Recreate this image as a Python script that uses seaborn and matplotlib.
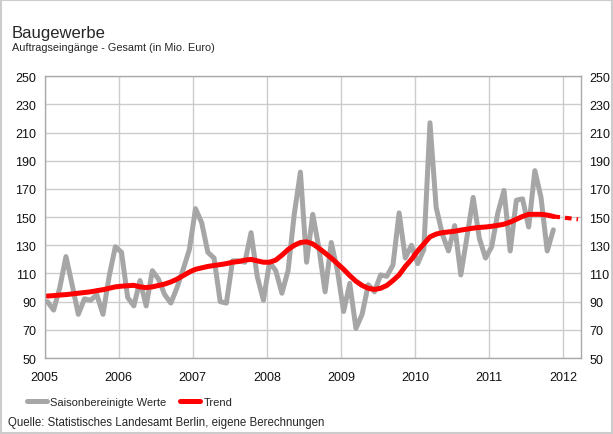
import numpy as np
import pandas as pd
import matplotlib
matplotlib.use('Agg')
import matplotlib.pyplot as plt
import seaborn as sns

# monthly values Jan 2005 - Nov 2011
saison = [90, 84, 100, 122, 102, 81, 92, 91, 95, 81, 108, 129,
          125, 93, 87, 105, 87, 112, 106, 95, 89, 100, 113, 127,
          156, 146, 125, 121, 90, 89, 119, 119, 118, 139, 108, 91,
          118, 112, 96, 112, 152, 182, 118, 152, 128, 97, 132, 112,
          83, 103, 71, 81, 102, 97, 109, 108, 116, 153, 121, 130,
          117, 127, 217, 157, 138, 126, 144, 109, 136, 164, 135, 121,
          129, 153, 169, 126, 162, 163, 143, 183, 164, 126, 141]
trend = [94, 94.3, 94.7, 95, 95.5, 96, 96.5, 97, 97.8, 98.5, 99.5, 100.5,
         101, 101.3, 101.6, 100.5, 100, 100.5, 101.5, 102.5, 104, 106, 108.5, 111,
         113, 114, 115, 115.7, 116.3, 117, 118, 118.5, 119.5, 120, 119, 118,
         118, 119.5, 123, 127, 130, 132, 132.5, 131, 128, 124.5, 121, 117,
         113, 108.5, 104.5, 101.5, 99.5, 98.7, 99.5, 101.5, 105, 109, 115, 120,
         126, 131, 136, 138, 139, 139.5, 140, 140.8, 141.5, 142.2, 142.7, 143,
         143.5, 144.2, 145, 146.5, 148.5, 150.5, 152, 152, 152, 151.5, 150.5]
# dashed continuation of the trend (Nov 2011 - Mar 2012)
forecast = [150.5, 150, 149.5, 149, 148.5]
years = [2005, 2006, 2007, 2008, 2009, 2010, 2011, 2012]
yticks = list(range(50, 251, 20))

x_months = 2005 + (np.arange(len(saison)) + 0.45) / 12
x_fc = 2005 + (np.arange(len(saison) - 1, len(saison) - 1 + len(forecast)) + 0.45) / 12

df = pd.DataFrame({'x': x_months, 'saison': saison, 'trend': trend})
df_fc = pd.DataFrame({'x': x_fc, 'trend': forecast})

sns.set_style('white')
plt.rcParams['font.family'] = ['Liberation Sans', 'DejaVu Sans']

fig = plt.figure(figsize=(6.13, 4.35), dpi=100)
ax = fig.add_axes([0.0729, 0.1747, 0.8744, 0.6476])

sns.lineplot(data=df, x='x', y='saison', color='#a6a6a6', lw=3.6, ax=ax,
             label='Saisonbereinigte Werte')
sns.lineplot(data=df, x='x', y='trend', color='#ff0000', lw=3.6, ax=ax, label='Trend')
sns.lineplot(data=df_fc, x='x', y='trend', color='#ff0000', lw=3.0, ax=ax,
             linestyle=(0, (1.6, 1.2)))

ax.set_xlim(2005, 2012.24)
ax.set_ylim(50, 250)
ax.set_xticks(years)
ax.set_xticklabels([str(y) for y in years])
ax.set_yticks(yticks)
ax.set_xlabel('')
ax.set_ylabel('')
ax.grid(True, color='#cccccc', lw=1)
for s in ax.spines.values():
    s.set_color('#aaaaaa')
    s.set_linewidth(1)
ax.tick_params(axis='both', length=0, labelsize=9, colors='#111111')
ax.tick_params(axis='x', pad=9)
ax.tick_params(axis='y', pad=6, labelright=True)

handles, labels = ax.get_legend_handles_labels()
ax.get_legend().remove()
fig.legend(handles[:2], labels[:2], loc='center left', bbox_to_anchor=(27 / 613, 1 - 403 / 435),
           ncol=2, frameon=False, fontsize=8, handlelength=1.8, handletextpad=0.3,
           columnspacing=1.2, borderpad=0, borderaxespad=0)

fig.text(12 / 613, 1 - 38 / 435, 'Baugewerbe', fontsize=12, va='baseline', ha='left')
fig.text(12 / 613, 1 - 51 / 435, 'Auftragseingänge - Gesamt (in Mio. Euro)', fontsize=7.8,
         va='baseline', ha='left')
fig.text(8 / 613, 1 - 423 / 435, 'Quelle: Statistisches Landesamt Berlin, eigene Berechnungen',
         fontsize=8.3, va='center', ha='left')

# light frame around the whole picture
fig.patches.append(plt.Rectangle((0.002, 0.002), 0.996, 0.995, transform=fig.transFigure,
                                 fill=False, edgecolor='#cccccc', lw=1.5))

fig.savefig('out.png', dpi=100)
